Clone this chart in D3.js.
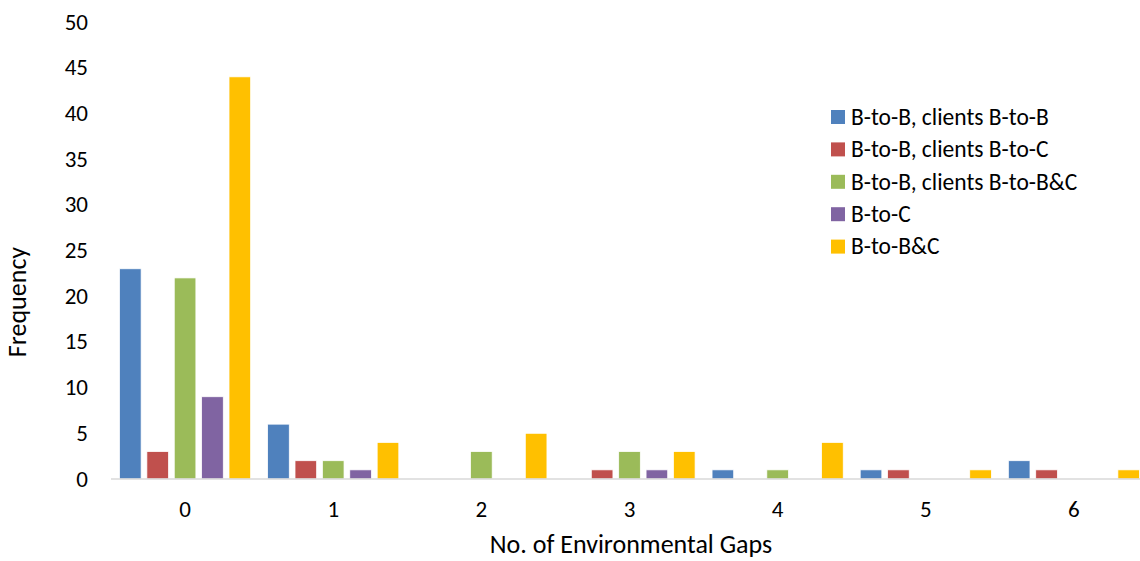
<!DOCTYPE html>
<html>
<head>
<meta charset="utf-8">
<script src="https://cdn.jsdelivr.net/npm/d3@7"></script>
<style>
  html, body { margin: 0; padding: 0; background: #fff; }
  svg { display: block; }
  text { font-family: Carlito, Lato, "Open Sans", sans-serif; fill: #000; }
</style>
</head>
<body>
<svg id="chart" width="1140" height="561"></svg>
<script>
// Number of environmental gaps (x categories)
const categories = ["0", "1", "2", "3", "4", "5", "6"];

// Series names and colours
const seriesNames = [
  "B-to-B, clients B-to-B",
  "B-to-B, clients B-to-C",
  "B-to-B, clients B-to-B&C",
  "B-to-C",
  "B-to-B&C"
];
const seriesColors = ["#4f81bd", "#c0504d", "#9bbb59", "#8064a2", "#ffc000"];

// Frequencies per series, one value per category
const b2bClientsB2B   = [23, 6, 0, 0, 1, 1, 2];
const b2bClientsB2C   = [3, 2, 0, 1, 0, 1, 1];
const b2bClientsB2BC  = [22, 2, 3, 3, 1, 0, 0];
const b2c             = [9, 1, 0, 1, 0, 0, 0];
const b2bc            = [44, 4, 5, 3, 4, 1, 1];
const seriesValues = [b2bClientsB2B, b2bClientsB2C, b2bClientsB2BC, b2c, b2bc];

// Y axis ticks
const yTicks = [0, 5, 10, 15, 20, 25, 30, 35, 40, 45, 50];

const svg = d3.select("#chart");

const plot = { left: 111, right: 1148, top: 22, bottom: 479 };

const x0 = d3.scaleBand()
  .domain(categories)
  .range([plot.left, plot.right])
  .padding(0);

const x1 = d3.scaleBand()
  .domain(d3.range(seriesNames.length))
  .range([0, x0.bandwidth()])
  .paddingInner(0.21)
  .paddingOuter(0.31);

const y = d3.scaleLinear()
  .domain([0, 50])
  .range([plot.bottom, plot.top]);

// Bars
const groups = svg.append("g")
  .selectAll("g")
  .data(categories)
  .join("g")
  .attr("transform", d => `translate(${x0(d)},0)`);

groups.selectAll("rect")
  .data((c, ci) => seriesValues.map((vals, si) => ({ si, v: vals[ci] })))
  .join("rect")
  .filter(d => d.v > 0)
  .attr("x", d => x1(d.si))
  .attr("width", x1.bandwidth())
  .attr("y", d => y(d.v))
  .attr("height", d => y(0) - y(d.v))
  .attr("fill", d => seriesColors[d.si])
  .attr("stroke", "#fff")
  .attr("stroke-width", 0.75);

// X axis baseline
svg.append("line")
  .attr("x1", plot.left).attr("x2", 1140)
  .attr("y1", y(0)).attr("y2", y(0))
  .attr("stroke", "#d9d9d9")
  .attr("stroke-width", 1.5);

// Y axis labels
svg.append("g")
  .selectAll("text")
  .data(yTicks)
  .join("text")
  .attr("x", 88)
  .attr("y", d => y(d))
  .attr("dy", "0.33em")
  .attr("text-anchor", "end")
  .style("font-size", "23px")
  .text(d => d);

// X axis labels
svg.append("g")
  .selectAll("text")
  .data(categories)
  .join("text")
  .attr("x", d => x0(d) + x0.bandwidth() / 2)
  .attr("y", 517)
  .attr("text-anchor", "middle")
  .style("font-size", "23px")
  .text(d => d);

// Axis titles
svg.append("text")
  .attr("x", 631)
  .attr("y", 553)
  .attr("text-anchor", "middle")
  .style("font-size", "26px")
  .text("No. of Environmental Gaps");

svg.append("text")
  .attr("transform", "translate(26,302) rotate(-90)")
  .attr("text-anchor", "middle")
  .style("font-size", "26px")
  .text("Frequency");

// Legend
const legend = svg.append("g")
  .selectAll("g")
  .data(seriesNames)
  .join("g")
  .attr("transform", (d, i) => `translate(831,${117 + i * 32.4})`);

legend.append("rect")
  .attr("x", 0).attr("y", -7)
  .attr("width", 14).attr("height", 14)
  .attr("fill", (d, i) => seriesColors[i]);

legend.append("text")
  .attr("x", 20)
  .attr("y", 0)
  .attr("dy", "0.33em")
  .style("font-size", "23.5px")
  .text(d => d);
</script>
</body>
</html>
